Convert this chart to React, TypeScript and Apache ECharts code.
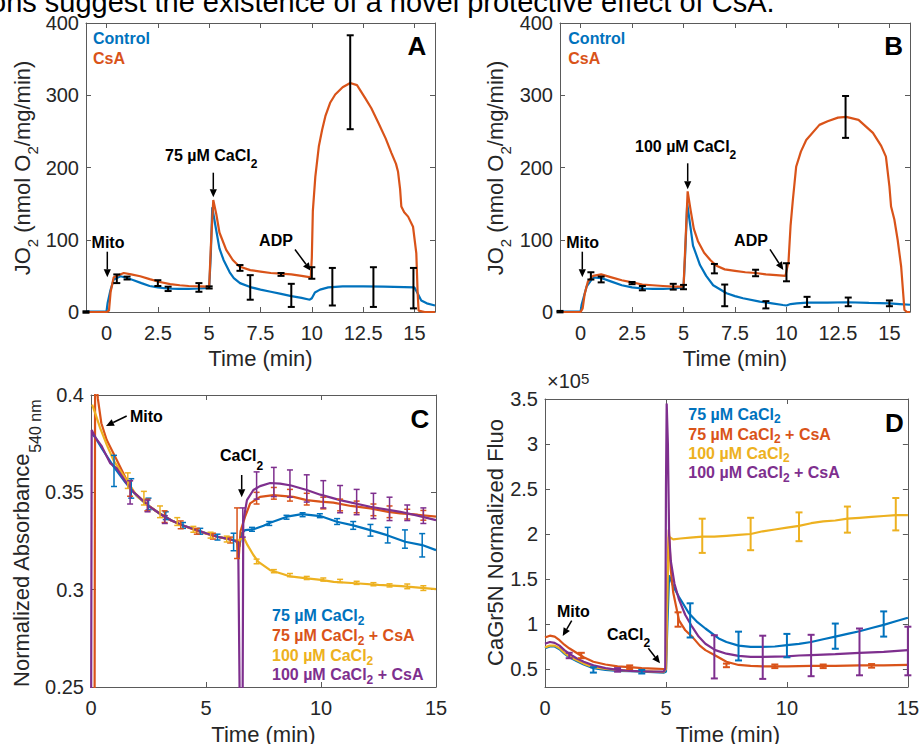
import React, { useEffect, useRef } from "react";
import * as echarts from "echarts";

type P = [number, number];
type E = [number, number, number];

const BLUE = "#0072BD";
const ORANGE = "#D95319";
const YELLOW = "#EDB120";
const PURPLE = "#7E2F8E";
const INK = "#262626";
const AXIS = "#5a5a5a";
const FONT = "'Liberation Sans', Arial, Helvetica, sans-serif";

// ---------- tick values ----------
const xTicksAB = [0, 2.5, 5, 7.5, 10, 12.5, 15];
const yTicksAB = [0, 100, 200, 300, 400];
const xTicksCD = [0, 5, 10, 15];
const yTicksC = [0.25, 0.3, 0.35, 0.4];
const yTicksD = [0.5, 1, 1.5, 2, 2.5, 3, 3.5];

// ---------- Panel A : 75 uM CaCl2 respiration ----------
const aControl: P[] = [
  [-1, 0.5], [-0.5, 0.5], [0, 1], [0.05, 12], [0.19, 30], [0.35, 45], [0.68, 49.5], [1.0, 47], [1.32, 44],
  [1.7, 40], [2.1, 36], [2.5, 34], [2.93, 32.5], [3.5, 32], [4.0, 32], [4.54, 32.5], [5.0, 33.5],
  [5.08, 80], [5.15, 145], [5.3, 120], [5.5, 88], [5.7, 72], [6.0, 55], [6.2, 47], [6.5, 40], [7.0, 34.5],
  [7.5, 31], [8.0, 28], [8.5, 25], [9.0, 22], [9.5, 19.5], [9.9, 17], [10.0, 19], [10.15, 27], [10.4, 31],
  [10.8, 34], [11.5, 35.5], [12.5, 35.5], [13.5, 35], [14.5, 34.5], [15.0, 34], [15.17, 25], [15.33, 16],
  [15.6, 12], [16, 9],
];
const aCsA: P[] = [
  [-1, 0], [0, 0], [0.12, 2], [0.2, 28], [0.35, 48], [0.84, 54], [1.2, 52], [1.64, 49.5], [2.1, 45.5],
  [2.6, 41.5], [3.1, 38.5], [3.57, 37], [4.0, 36], [4.54, 35.5], [5.0, 35], [5.08, 90], [5.2, 155],
  [5.35, 135], [5.5, 110], [5.83, 86], [6.15, 72], [6.47, 63], [7.0, 58], [7.5, 56], [8.0, 54], [8.5, 53],
  [9.0, 52], [9.5, 50], [9.95, 48], [10.0, 75], [10.05, 140], [10.17, 187], [10.34, 229], [10.5, 252],
  [10.66, 271], [10.9, 290], [11.14, 301], [11.5, 311], [11.87, 317], [12.2, 314], [12.6, 296], [12.9, 282],
  [13.24, 262], [13.6, 240], [13.88, 220], [14.1, 205], [14.2, 194], [14.3, 170], [14.36, 146], [14.5, 138],
  [14.69, 132], [14.93, 118], [15.09, 81], [15.15, 30], [15.2, 2], [15.5, 0], [16, 0],
];
const aControlErr: E[] = [
  [-1, 0, 1], [1.0, 47, 2], [3.0, 32, 3], [5.0, 34, 1.5], [7.0, 34, 17], [9.0, 23, 16], [11.0, 35, 26],
  [13.0, 34.5, 27.5], [14.95, 33, 28],
];
const aCsAErr: E[] = [
  [0.5, 46, 6], [2.5, 40, 4], [4.5, 34, 6], [6.5, 61, 4], [8.5, 52, 2], [10.0, 54, 8], [11.87, 318, 65],
];

// ---------- Panel B : 100 uM CaCl2 respiration ----------
const bControl: P[] = [
  [-1, 0.5], [-0.5, 0.5], [0, 0.5], [0.05, 10], [0.29, 35], [0.61, 48], [1.0, 47], [1.5, 42], [2.0, 37],
  [2.5, 34], [3.0, 32.5], [3.5, 32], [4.0, 32], [4.5, 32.5], [5.0, 34], [5.08, 80], [5.18, 150], [5.3, 125],
  [5.46, 92], [5.8, 65], [6.1, 50], [6.44, 37], [7.09, 26], [7.5, 22], [7.89, 19], [8.7, 14.3], [9.3, 12],
  [9.83, 9.7], [10.0, 9], [10.2, 11], [10.5, 12], [11.0, 13], [12.0, 13], [13.0, 13.5], [14.0, 12.5],
  [15.0, 12], [15.5, 11], [16, 10],
];
const bCsA: P[] = [
  [-1, 0], [0, 0], [0.1, 5], [0.2, 25], [0.35, 42], [0.6, 50], [1.0, 52], [1.5, 48], [2.0, 44], [2.5, 41],
  [3.0, 38], [3.5, 37], [4.0, 36], [4.5, 35], [5.0, 35], [5.1, 100], [5.2, 167], [5.35, 140], [5.5, 115],
  [5.7, 98], [6.0, 82], [6.3, 72], [6.6, 64], [7.0, 59], [7.5, 57], [8.0, 55], [8.5, 54], [9.0, 52],
  [9.5, 51], [9.95, 50], [10.1, 70], [10.2, 120], [10.31, 155], [10.47, 201], [10.7, 222], [10.96, 238],
  [11.6, 259], [12.0, 264], [12.5, 269], [12.9, 270], [13.5, 266], [14.2, 248], [14.6, 230], [14.83, 215],
  [15.0, 174], [15.08, 146], [15.24, 128], [15.4, 100], [15.57, 63], [15.73, 3], [15.85, 0], [16, 0],
];
const bControlErr: E[] = [
  [-1, 0.5, 1], [1.0, 45, 4], [3.0, 33, 3], [5.0, 34.5, 3], [7.0, 23, 15], [9.0, 10, 5], [11.0, 14, 7],
  [13.0, 14, 6], [15.0, 12, 4],
];
const bCsAErr: E[] = [
  [0.5, 50, 5], [2.5, 40, 1.5], [4.5, 35, 4], [6.5, 60, 6.5], [8.5, 54, 4.5], [10.0, 55, 12.5],
  [12.87, 270, 29],
];

// ---------- Panel C : swelling (absorbance 540 nm) ----------
const c75: P[] = [
  [0.05, 0.38], [0.2, 0.378], [0.5, 0.372], [1.0, 0.363], [1.5, 0.355], [2.0, 0.348], [2.5, 0.343],
  [3.0, 0.339], [3.5, 0.3355], [4.0, 0.333], [4.5, 0.331], [5.0, 0.329], [5.5, 0.3272], [6.0, 0.326],
  [6.3, 0.325], [6.45, 0.322], [6.55, 0.329], [6.7, 0.3306], [7.06, 0.331], [7.5, 0.3328], [7.79, 0.3344],
  [8.52, 0.3375], [9.17, 0.3388], [9.97, 0.3378], [10.69, 0.3349], [11.4, 0.333], [12.14, 0.3306],
  [12.87, 0.328], [13.66, 0.3246], [14.4, 0.3229], [15.0, 0.3203],
];
const c75CsA: P[] = [
  [0, 0.2], [0.15, 0.2], [0.18, 0.415], [0.3, 0.398], [0.45, 0.3855], [0.68, 0.377], [1.12, 0.3666],
  [1.55, 0.3563], [1.84, 0.3503], [2.57, 0.3426], [3.29, 0.3366], [4.02, 0.3328], [4.74, 0.3297],
  [5.47, 0.3272], [6.19, 0.3255], [6.35, 0.325], [6.42, 0.316], [6.5, 0.33], [6.7, 0.3375], [6.92, 0.3443],
  [7.35, 0.3477], [7.93, 0.3486], [8.8, 0.3477], [9.38, 0.346], [9.97, 0.3452], [10.54, 0.3447],
  [11.3, 0.343], [12.14, 0.3418], [12.93, 0.34], [13.45, 0.3392], [14.2, 0.3385], [15.0, 0.3375],
];
const c100: P[] = [
  [0.05, 0.395], [0.2, 0.39], [0.4, 0.383], [0.7, 0.374], [1.0, 0.366], [1.5, 0.357], [2.0, 0.348],
  [2.5, 0.343], [3.0, 0.339], [3.5, 0.3355], [4.0, 0.333], [4.5, 0.331], [5.0, 0.329], [5.5, 0.3272],
  [6.0, 0.326], [6.4, 0.325], [6.63, 0.327], [6.8, 0.323], [7.06, 0.3178], [7.28, 0.3143], [7.79, 0.31],
  [8.3, 0.3082], [8.66, 0.3068], [9.39, 0.3058], [10.0, 0.305], [10.55, 0.304], [11.5, 0.3033],
  [12.5, 0.3025], [13.5, 0.3018], [14.5, 0.3008], [15.0, 0.3003],
];
const c100CsA: P[] = [
  [0, 0.2], [0.03, 0.382], [0.2, 0.378], [0.45, 0.374], [0.83, 0.365], [1.12, 0.3623], [1.55, 0.3546],
  [1.84, 0.3503], [2.5, 0.343], [3.0, 0.339], [3.5, 0.3355], [4.0, 0.333], [4.5, 0.331], [5.0, 0.329],
  [5.5, 0.3272], [6.0, 0.326], [6.4, 0.3245], [6.5, 0.2], [6.58, 0.2], [6.62, 0.335], [6.78, 0.346],
  [7.06, 0.3512], [7.35, 0.3532], [7.79, 0.3548], [8.22, 0.3545], [8.7, 0.3535], [9.38, 0.3512],
  [9.97, 0.3488], [10.83, 0.346], [12.14, 0.3426], [13.45, 0.34], [14.2, 0.338], [15.0, 0.3357],
];
const c75Err: E[] = [
  [1.0, 0.361, 0.008], [1.75, 0.352, 0.005], [2.5, 0.344, 0.003], [3.25, 0.338, 0.002], [4.0, 0.333, 0.0015],
  [4.75, 0.33, 0.0015], [5.5, 0.327, 0.0015], [6.2, 0.3245, 0.0045], [7.0, 0.331, 0.001], [7.75, 0.334, 0.001],
  [8.5, 0.3372, 0.001], [9.2, 0.3385, 0.001], [9.95, 0.338, 0.001], [10.7, 0.335, 0.0015], [11.4, 0.333, 0.002],
  [12.15, 0.3305, 0.003], [12.9, 0.328, 0.004], [13.65, 0.326, 0.0047], [14.4, 0.3228, 0.006],
];
const c75CsAErr: E[] = [
  [1.7, 0.352, 0.004], [2.45, 0.3435, 0.003], [3.2, 0.3375, 0.003], [3.9, 0.3333, 0.002], [4.6, 0.33, 0.0015],
  [5.3, 0.3275, 0.0015], [6.05, 0.3255, 0.0015], [6.35, 0.329, 0.013], [7.2, 0.347, 0.003],
  [7.95, 0.3495, 0.003], [8.65, 0.3485, 0.003], [9.38, 0.3465, 0.003], [10.1, 0.3445, 0.003],
  [10.83, 0.3435, 0.003], [11.55, 0.3425, 0.003], [12.28, 0.341, 0.003], [12.98, 0.34, 0.003],
  [13.75, 0.3388, 0.0025], [14.45, 0.3382, 0.0025],
];
const c100Err: E[] = [
  [1.6, 0.356, 0.004], [2.3, 0.347, 0.0035], [3.0, 0.34, 0.003], [3.75, 0.335, 0.002], [4.45, 0.331, 0.0015],
  [5.2, 0.328, 0.0015], [5.9, 0.326, 0.0015], [7.2, 0.3145, 0.0012], [7.95, 0.3095, 0.0008],
  [8.65, 0.3075, 0.0008], [9.38, 0.306, 0.0008], [10.1, 0.3052, 0.0008], [10.83, 0.3045, 0.0008],
  [11.55, 0.3035, 0.0008], [12.28, 0.3028, 0.0008], [12.98, 0.3022, 0.0008], [13.75, 0.3017, 0.0012],
  [14.45, 0.3008, 0.0012],
];
const c100CsAErr: E[] = [
  [1.7, 0.35, 0.006], [2.46, 0.343, 0.003], [3.21, 0.336, 0.002], [6.6, 0.3345, 0.0075], [7.2, 0.3535, 0.007],
  [7.95, 0.3553, 0.0075], [8.65, 0.3545, 0.007], [9.38, 0.352, 0.007], [10.1, 0.349, 0.007],
  [10.83, 0.3465, 0.007], [11.55, 0.345, 0.0065], [12.28, 0.343, 0.0065], [12.98, 0.3415, 0.006],
  [13.75, 0.3395, 0.004], [14.45, 0.338, 0.004],
];

// ---------- Panel D : CaGr5N fluorescence (x 1e5) ----------
const d75: P[] = [
  [0, 0.73], [0.2, 0.75], [0.4, 0.75], [0.6, 0.72], [0.8, 0.67], [1.0, 0.63], [1.3, 0.59], [1.6, 0.55],
  [2.0, 0.51], [2.5, 0.49], [3.0, 0.48], [3.5, 0.475], [4.0, 0.47], [4.5, 0.465], [4.9, 0.46], [5.0, 0.47],
  [5.06, 1.0], [5.13, 1.54], [5.3, 1.42], [5.54, 1.3], [5.95, 1.12], [6.3, 1.02], [6.63, 0.95], [7.18, 0.84],
  [7.5, 0.8], [8.0, 0.76], [8.5, 0.745], [9.0, 0.745], [9.5, 0.75], [10.0, 0.765], [10.5, 0.78], [11.0, 0.8],
  [11.5, 0.83], [12.0, 0.86], [12.5, 0.89], [13.0, 0.92], [13.5, 0.955], [14.0, 0.99], [14.5, 1.03],
  [15.0, 1.07],
];
const d75CsA: P[] = [
  [0, 0.85], [0.2, 0.87], [0.4, 0.86], [0.6, 0.82], [0.8, 0.77], [1.0, 0.73], [1.3, 0.68], [1.6, 0.63],
  [2.0, 0.58], [2.5, 0.55], [3.0, 0.53], [3.5, 0.52], [4.0, 0.51], [4.5, 0.505], [4.9, 0.5], [5.0, 0.5],
  [5.06, 1.5], [5.12, 2.05], [5.2, 1.6], [5.3, 1.35], [5.54, 1.04], [5.8, 0.93], [6.08, 0.86], [6.4, 0.76],
  [6.63, 0.71], [7.04, 0.65], [7.5, 0.58], [8.0, 0.545], [8.5, 0.535], [9.0, 0.53], [10.0, 0.53],
  [11.0, 0.535], [12.0, 0.535], [13.0, 0.54], [14.0, 0.54], [15.0, 0.545],
];
const d100: P[] = [
  [0, 0.74], [0.2, 0.76], [0.4, 0.76], [0.6, 0.73], [0.8, 0.68], [1.0, 0.64], [1.3, 0.6], [1.6, 0.56],
  [2.0, 0.52], [2.5, 0.5], [3.0, 0.49], [3.5, 0.48], [4.0, 0.475], [4.5, 0.47], [4.9, 0.465], [5.0, 0.5],
  [5.07, 1.5], [5.12, 1.97], [5.3, 1.94], [5.6, 1.95], [6.0, 1.96], [6.5, 1.97], [7.0, 1.97], [7.5, 1.98],
  [8.0, 1.99], [8.5, 2.0], [9.0, 2.03], [9.5, 2.05], [10.0, 2.07], [10.5, 2.09], [11.0, 2.12], [11.5, 2.14],
  [12.0, 2.15], [12.5, 2.17], [13.0, 2.18], [13.5, 2.19], [14.0, 2.2], [14.5, 2.21], [15.0, 2.21],
];
const d100CsA: P[] = [
  [0, 0.78], [0.2, 0.8], [0.4, 0.79], [0.6, 0.76], [0.8, 0.71], [1.0, 0.67], [1.3, 0.62], [1.6, 0.58],
  [2.0, 0.54], [2.5, 0.51], [3.0, 0.49], [3.5, 0.48], [4.0, 0.475], [4.5, 0.47], [4.9, 0.47], [4.97, 0.5],
  [5.0, 2.5], [5.03, 3.45], [5.08, 3.0], [5.13, 2.0], [5.2, 1.7], [5.35, 1.45], [5.54, 1.27], [5.8, 1.1],
  [6.08, 0.97], [6.35, 0.86], [6.63, 0.78], [7.04, 0.71], [7.5, 0.67], [8.0, 0.645], [8.5, 0.635],
  [9.0, 0.635], [9.5, 0.638], [10.0, 0.64], [10.5, 0.65], [11.0, 0.655], [12.0, 0.665], [13.0, 0.68],
  [14.0, 0.69], [15.0, 0.71],
];
const d75Err: E[] = [
  [2, 0.49, 0.03], [4, 0.47, 0.02], [6, 1.04, 0.19], [8, 0.755, 0.16], [10, 0.76, 0.13], [12, 0.865, 0.14],
  [14, 1.0, 0.14],
];
const d75CsAErr: E[] = [
  [1.5, 0.65, 0.03], [3.5, 0.52, 0.02], [5.5, 1.05, 0.08], [7.5, 0.54, 0.02], [9.5, 0.53, 0.02],
  [11.5, 0.53, 0.02], [13.5, 0.535, 0.02],
];
const d100Err: E[] = [
  [6.5, 1.98, 0.19], [8.5, 2.0, 0.18], [10.5, 2.08, 0.16], [12.5, 2.16, 0.145], [14.5, 2.22, 0.18],
];
const d100CsAErr: E[] = [
  [1, 0.65, 0.03], [3, 0.49, 0.02], [7, 0.635, 0.24], [9, 0.63, 0.24], [11, 0.65, 0.23], [13, 0.69, 0.26],
  [15, 0.7, 0.27],
];

// ---------- helpers ----------
function gridAxes(g: number, xr: P, xt: number[], yr: P, yt: number[]) {
  const axisLine = { show: true, onZero: false, lineStyle: { color: AXIS, width: 1 } };
  const lab = { color: INK, fontSize: 20, fontFamily: FONT };
  const tick = (vals: number[]) => ({
    show: true, inside: true, length: 5, customValues: vals, lineStyle: { color: AXIS, width: 1 },
  });
  const base = { type: "value", gridIndex: g, splitLine: { show: false }, axisLine };
  const xs = [
    { ...base, position: "bottom", min: xr[0], max: xr[1], axisTick: tick(xt),
      axisLabel: { ...lab, margin: 11, customValues: xt } },
    { ...base, position: "top", min: xr[0], max: xr[1], axisTick: tick(xt), axisLabel: { show: false } },
  ];
  const ys = [
    { ...base, position: "left", min: yr[0], max: yr[1], axisTick: tick(yt),
      axisLabel: { ...lab, margin: 7, customValues: yt } },
    { ...base, position: "right", min: yr[0], max: yr[1], axisTick: tick(yt), axisLabel: { show: false } },
  ];
  return { xs, ys };
}

function lineS(data: P[], g: number, color: string, z = 2) {
  return {
    type: "line", xAxisIndex: 2 * g, yAxisIndex: 2 * g, data, showSymbol: false, symbol: "none",
    lineStyle: { color, width: 2.2 }, itemStyle: { color }, silent: true, clip: true, z,
  };
}

function errS(data: E[], g: number, color: string, lw: number, cap: number, z = 3) {
  return {
    type: "custom", xAxisIndex: 2 * g, yAxisIndex: 2 * g, silent: true, z,
    data: data.map(([t, m, e]) => [t, m - e, m + e]),
    encode: { x: 0, y: [1, 2] },
    renderItem: (_p: any, api: any) => {
      const t = api.value(0);
      const lo = api.coord([t, api.value(1)]);
      const hi = api.coord([t, api.value(2)]);
      const st = { stroke: color, lineWidth: lw };
      return {
        type: "group",
        children: [
          { type: "line", shape: { x1: lo[0], y1: lo[1], x2: hi[0], y2: hi[1] }, style: st },
          { type: "line", shape: { x1: lo[0] - cap, y1: lo[1], x2: lo[0] + cap, y2: lo[1] }, style: st },
          { type: "line", shape: { x1: hi[0] - cap, y1: hi[1], x2: hi[0] + cap, y2: hi[1] }, style: st },
        ],
      };
    },
  };
}

function arrow(x1: number, y1: number, x2: number, y2: number) {
  const a = Math.atan2(y2 - y1, x2 - x1);
  const L = 8, W = 3.6;
  const bx = x2 - L * Math.cos(a), by = y2 - L * Math.sin(a);
  const px = -Math.sin(a) * W, py = Math.cos(a) * W;
  return [
    { type: "line", silent: true, shape: { x1, y1, x2: bx, y2: by }, style: { stroke: "#000", lineWidth: 1.5 } },
    { type: "polygon", silent: true, shape: { points: [[x2, y2], [bx + px, by + py], [bx - px, by - py]] },
      style: { fill: "#000" } },
  ];
}

function plainText(x: number, y: number, text: string, color: string, size: number, bold: boolean,
  align = "left") {
  return {
    type: "text", x, y, silent: true,
    style: { text, fill: color, fontSize: size, fontFamily: FONT, fontWeight: bold ? "bold" : "normal",
      align, verticalAlign: "middle" },
  };
}

// bold text with subscripts; cy = vertical centre of the main glyphs, drop = how far the subscript sits lower
function subText(x: number, cy: number, text: string, color: string, drop: number, size = 16,
  subSize = 12, align = "left") {
  const L = drop + (size + subSize) / 2;
  return {
    type: "text", x, y: cy - size / 2, silent: true,
    style: {
      text, align, verticalAlign: "top",
      rich: {
        m: { fill: color, fontSize: size, fontWeight: "bold", fontFamily: FONT, lineHeight: size, verticalAlign: "top" },
        s: { fill: color, fontSize: subSize, fontWeight: "bold", fontFamily: FONT, lineHeight: L,
          verticalAlign: "bottom" },
      },
    },
  };
}

function yTitle(cx: number, cy: number, text: string, drop: number, subSize = 15) {
  const L = drop + (22 + subSize) / 2;
  return {
    type: "text", x: cx - 11, y: cy, rotation: Math.PI / 2, silent: true,
    style: {
      text, align: "center", verticalAlign: "top",
      rich: {
        m: { fill: INK, fontSize: 22, fontFamily: FONT, lineHeight: 22, verticalAlign: "top" },
        s: { fill: INK, fontSize: subSize, fontFamily: FONT, lineHeight: L, verticalAlign: "bottom" },
      },
    },
  };
}

function xTitle(cx: number, cy: number) {
  return plainText(cx, cy, "Time (min)", INK, 22, false, "center");
}

export default function App() {
  const ref = useRef<HTMLDivElement>(null);
  useEffect(() => {
    if (!ref.current) return;
    const chart = echarts.init(ref.current, undefined, { renderer: "svg" });

    const A = gridAxes(0, [-1, 16], xTicksAB, [0, 400], yTicksAB);
    const B = gridAxes(1, [-1, 16], xTicksAB, [0, 400], yTicksAB);
    const C = gridAxes(2, [0, 15], xTicksCD, [0.25, 0.4], yTicksC);
    const D = gridAxes(3, [0, 15], xTicksCD, [0.3, 3.5], yTicksD);

    const graphic: any[] = [
      // caption fragment at the top (cut by the page edge)
      { type: "text", x: -10, y: 2, silent: true,
        style: { text: "ons suggest the existence of a novel protective effect of CsA.", fill: "#000",
          fontSize: 29, fontFamily: FONT, align: "left", verticalAlign: "middle" } },

      // ---- Panel A
      plainText(93, 38.7, "Control", BLUE, 16, true),
      plainText(93, 58.3, "CsA", ORANGE, 16, true),
      plainText(417, 45.5, "A", "#000", 26, true, "center"),
      plainText(108, 242, "Mito", "#000", 16, true, "center"),
      ...arrow(107.3, 251.7, 107.3, 277.3),
      subText(165, 155, "{m|75 µM CaCl}{s|2}", "#000", 8.5),
      ...arrow(213.3, 172.7, 213.3, 197.3),
      plainText(276, 240.5, "ADP", "#000", 16, true, "center"),
      ...arrow(295, 249.5, 310.7, 270.7),
      yTitle(22, 168, "{m|JO}{s|2}{m| (nmol O}{s|2}{m|/mg/min)}", 10),
      xTitle(260.5, 358),

      // ---- Panel B
      plainText(568.3, 38.7, "Control", BLUE, 16, true),
      plainText(568.3, 58.3, "CsA", ORANGE, 16, true),
      plainText(893.7, 45.5, "B", "#000", 26, true, "center"),
      plainText(582.7, 242, "Mito", "#000", 16, true, "center"),
      ...arrow(582.3, 251.7, 582.3, 277.3),
      subText(635, 146.7, "{m|100 µM CaCl}{s|2}", "#000", 8.5),
      ...arrow(687.7, 163.3, 687.7, 189.3),
      plainText(751, 240, "ADP", "#000", 16, true, "center"),
      ...arrow(770, 249.3, 783.3, 270),
      yTitle(495.5, 168, "{m|JO}{s|2}{m| (nmol O}{s|2}{m|/mg/min)}", 10),
      xTitle(735, 358),

      // ---- Panel C
      plainText(130, 416.7, "Mito", "#000", 16, true),
      ...arrow(126.7, 416, 106, 426),
      subText(220, 455.8, "{m|CaCl}{s|2}", "#000", 10),
      ...arrow(241.7, 475, 241.7, 497.3),
      plainText(419.8, 419.2, "C", "#000", 26, true, "center"),
      subText(272, 615.8, "{m|75 µM CaCl}{s|2}", BLUE, 5),
      subText(272, 635.8, "{m|75 µM CaCl}{s|2}{m| + CsA}", ORANGE, 5),
      subText(272, 655.5, "{m|100 µM CaCl}{s|2}", YELLOW, 5),
      subText(272, 674.5, "{m|100 µM CaCl}{s|2}{m| + CsA}", PURPLE, 5),
      yTitle(21.5, 543.5, "{m|Normalized Absorbance}{s|540 nm}", 14.3, 16),
      xTitle(263.5, 734),

      // ---- Panel D
      { type: "text", x: 547, y: 389 - 18, silent: true,
        style: { text: "{m|×10}{p|5}", align: "left", verticalAlign: "top",
          rich: {
            m: { fill: INK, fontSize: 20, fontFamily: FONT, lineHeight: 36, verticalAlign: "top" },
            p: { fill: INK, fontSize: 15, fontFamily: FONT, lineHeight: 20, verticalAlign: "top" },
          } } },
      plainText(557, 611, "Mito", "#000", 16, true),
      ...arrow(571.7, 620.7, 562.7, 636),
      subText(607, 634, "{m|CaCl}{s|2}", "#000", 8.5),
      ...arrow(648.3, 648.3, 660, 663.3),
      plainText(894.5, 422.5, "D", "#000", 26, true, "center"),
      subText(688.3, 414.2, "{m|75 µM CaCl}{s|2}", BLUE, 5),
      subText(688.3, 434.2, "{m|75 µM CaCl}{s|2}{m| + CsA}", ORANGE, 5),
      subText(688.3, 453.3, "{m|100 µM CaCl}{s|2}", YELLOW, 5),
      subText(688.3, 472.5, "{m|100 µM CaCl}{s|2}{m| + CsA}", PURPLE, 5),
      { type: "text", x: 495, y: 542.5, rotation: Math.PI / 2, silent: true,
        style: { text: "CaGr5N Normalized Fluo", fill: INK, fontSize: 22, fontFamily: FONT,
          align: "center", verticalAlign: "middle" } },
      xTitle(728, 734),
    ];

    chart.setOption({
      animation: false,
      backgroundColor: "#ffffff",
      grid: [
        { left: 86, top: 23, width: 349, height: 289 },
        { left: 560, top: 23, width: 350, height: 289 },
        { left: 91, top: 395, width: 345, height: 292 },
        { left: 545, top: 399, width: 366, height: 288 },
      ],
      xAxis: [...A.xs, ...B.xs, ...C.xs, ...D.xs],
      yAxis: [...A.ys, ...B.ys, ...C.ys, ...D.ys],
      series: [
        lineS(aControl, 0, BLUE),
        lineS(aCsA, 0, ORANGE),
        errS(aControlErr, 0, "#000", 2, 3.5),
        errS(aCsAErr, 0, "#000", 2, 3.5),

        lineS(bControl, 1, BLUE),
        lineS(bCsA, 1, ORANGE),
        errS(bControlErr, 1, "#000", 2, 3.5),
        errS(bCsAErr, 1, "#000", 2, 3.5),

        lineS(c75, 2, BLUE),
        errS(c75Err, 2, BLUE, 1.5, 3),
        lineS(c75CsA, 2, ORANGE),
        errS(c75CsAErr, 2, ORANGE, 1.5, 3),
        lineS(c100, 2, YELLOW),
        errS(c100Err, 2, YELLOW, 1.5, 3),
        lineS(c100CsA, 2, PURPLE),
        errS(c100CsAErr, 2, PURPLE, 1.5, 3),

        lineS(d75, 3, BLUE),
        errS(d75Err, 3, BLUE, 2, 3.5),
        lineS(d75CsA, 3, ORANGE),
        errS(d75CsAErr, 3, ORANGE, 2, 3.5),
        lineS(d100, 3, YELLOW),
        errS(d100Err, 3, YELLOW, 2, 3.5),
        lineS(d100CsA, 3, PURPLE),
        errS(d100CsAErr, 3, PURPLE, 2, 3.5),
      ],
      graphic,
    } as any);

    return () => chart.dispose();
  }, []);

  return (
    <div
      ref={ref}
      style={{ position: "absolute", left: 0, top: 0, width: 922, height: 744, background: "#fff" }}
    />
  );
}
